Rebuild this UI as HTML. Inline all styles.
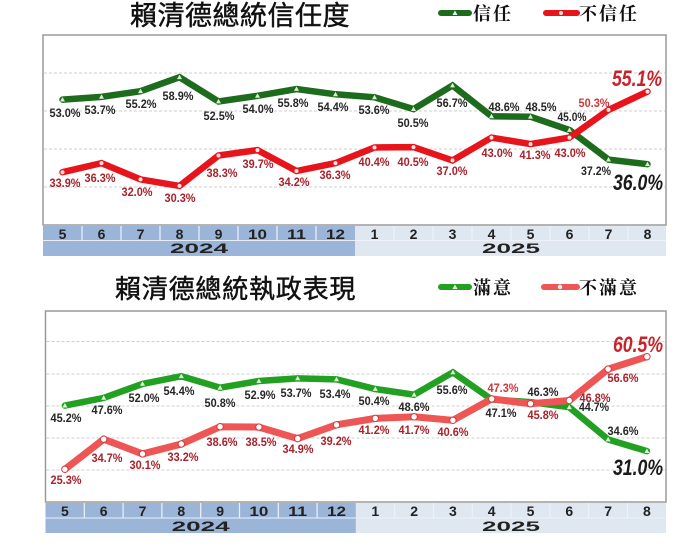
<!DOCTYPE html>
<html><head><meta charset="utf-8">
<style>
html,body{margin:0;padding:0;background:#fff;}
svg{display:block;}
.lbl{font-family:"Liberation Sans",sans-serif;font-weight:bold;font-size:12px;text-anchor:middle;}
.g{fill:#262626;}
.r{fill:#a8222c;}
.big{font-family:"Liberation Sans",sans-serif;font-weight:bold;font-style:italic;font-size:22px;text-anchor:middle;}
.mo{font-family:"Liberation Sans",sans-serif;font-weight:bold;font-size:14px;text-anchor:middle;fill:#222;}
.title{font-family:"Liberation Sans","Noto Sans CJK TC",sans-serif;font-size:27px;fill:#111;letter-spacing:0.5px;stroke:#111;stroke-width:0.45px;}
.leg{font-family:"Liberation Sans","Noto Serif CJK SC","Noto Sans CJK TC",serif;font-size:18px;fill:#111;letter-spacing:2px;font-weight:bold;}
</style></head>
<body>
<svg width="692" height="551" viewBox="0 0 692 551" xmlns="http://www.w3.org/2000/svg">
<rect width="692" height="551" fill="#fff"/>

<!-- ================= TOP CHART ================= -->
<text class="title" x="130" y="25">賴清德總統信任度</text>
<line x1="441" y1="13" x2="469" y2="13" stroke="#1d6b1d" stroke-width="6" stroke-linecap="round"/>
<polygon points="455,10.5 457.5,15 452.5,15" fill="#dfe" />
<text class="leg" x="473" y="20">信任</text>
<line x1="546" y1="13" x2="577" y2="13" stroke="#e8141c" stroke-width="6" stroke-linecap="round"/>
<circle cx="561" cy="13" r="2" fill="#fdd"/>
<text class="leg" x="579" y="20">不信任</text>

<rect x="43" y="35" width="623" height="190" fill="#fff" stroke="#9a9a9a" stroke-width="1.5"/>
<g stroke="#cfcfcf" stroke-width="1" stroke-dasharray="3,2">
<line x1="44" y1="73" x2="665" y2="73"/>
<line x1="44" y1="111" x2="665" y2="111"/>
<line x1="44" y1="149" x2="665" y2="149"/>
<line x1="44" y1="187" x2="665" y2="187"/>
</g>

<polyline fill="none" stroke="#1d6b1d" stroke-width="6.5" stroke-linejoin="miter" stroke-linecap="round"
points="62.5,99.6 101.5,96.9 140.5,91.2 179.5,77.2 218.5,101.5 257.5,95.8 296.5,89.0 335.5,94.3 374.5,97.3 413.5,109.1 452.5,85.5 491.5,116.3 530.5,116.7 569.5,130.0 608.5,159.6 647.5,164.2"/>
<polyline fill="none" stroke="#e8141c" stroke-width="6.5" stroke-linejoin="miter" stroke-linecap="round"
points="62.5,172.2 101.5,163.1 140.5,179.4 179.5,185.9 218.5,155.5 257.5,150.1 296.5,171.0 335.5,163.1 374.5,147.5 413.5,147.1 452.5,160.4 491.5,137.6 530.5,144.1 569.5,137.6 608.5,109.9 647.5,91.6"/>
<g fill="#d8f0d0">
<polygon points="62.5,97 65,101.5 60,101.5"/><polygon points="101.5,94.3 104,98.8 99,98.8"/>
<polygon points="140.5,88.6 143,93.1 138,93.1"/><polygon points="179.5,74.6 182,79.1 177,79.1"/>
<polygon points="218.5,98.9 221,103.4 216,103.4"/><polygon points="257.5,93.2 260,97.7 255,97.7"/>
<polygon points="296.5,86.4 299,90.9 294,90.9"/><polygon points="335.5,91.7 338,96.2 333,96.2"/>
<polygon points="374.5,94.7 377,99.2 372,99.2"/><polygon points="413.5,106.5 416,111 411,111"/>
<polygon points="452.5,82.9 455,87.4 450,87.4"/><polygon points="491.5,113.7 494,118.2 489,118.2"/>
<polygon points="530.5,114.1 533,118.6 528,118.6"/><polygon points="569.5,127.4 572,131.9 567,131.9"/>
<polygon points="608.5,157 611,161.5 606,161.5"/><polygon points="647.5,161.6 650,166.1 645,166.1"/>
</g>
<g fill="#fde0e0">
<circle cx="62.5" cy="172.2" r="2"/><circle cx="101.5" cy="163.1" r="2"/><circle cx="140.5" cy="179.4" r="2"/><circle cx="179.5" cy="185.9" r="2"/>
<circle cx="218.5" cy="155.5" r="2"/><circle cx="257.5" cy="150.1" r="2"/><circle cx="296.5" cy="171.0" r="2"/><circle cx="335.5" cy="163.1" r="2"/>
<circle cx="374.5" cy="147.5" r="2"/><circle cx="413.5" cy="147.1" r="2"/><circle cx="452.5" cy="160.4" r="2"/><circle cx="491.5" cy="137.6" r="2"/>
<circle cx="530.5" cy="144.1" r="2"/><circle cx="569.5" cy="137.6" r="2"/><circle cx="608.5" cy="109.9" r="2"/><circle cx="647.5" cy="91.6" r="2"/>
</g>

<g class="lbl g">
<text x="65" y="117" textLength="31" lengthAdjust="spacingAndGlyphs">53.0%</text>
<text x="100" y="114" textLength="31" lengthAdjust="spacingAndGlyphs">53.7%</text>
<text x="141" y="108" textLength="31" lengthAdjust="spacingAndGlyphs">55.2%</text>
<text x="178" y="100" textLength="31" lengthAdjust="spacingAndGlyphs">58.9%</text>
<text x="219" y="120" textLength="31" lengthAdjust="spacingAndGlyphs">52.5%</text>
<text x="258" y="113" textLength="31" lengthAdjust="spacingAndGlyphs">54.0%</text>
<text x="293" y="107" textLength="31" lengthAdjust="spacingAndGlyphs">55.8%</text>
<text x="333" y="111" textLength="31" lengthAdjust="spacingAndGlyphs">54.4%</text>
<text x="374" y="114" textLength="31" lengthAdjust="spacingAndGlyphs">53.6%</text>
<text x="413" y="127" textLength="31" lengthAdjust="spacingAndGlyphs">50.5%</text>
<text x="452" y="107" textLength="31" lengthAdjust="spacingAndGlyphs">56.7%</text>
<text x="504" y="111" textLength="31" lengthAdjust="spacingAndGlyphs">48.6%</text>
<text x="541" y="111" textLength="31" lengthAdjust="spacingAndGlyphs">48.5%</text>
<text x="572" y="121" textLength="29" lengthAdjust="spacingAndGlyphs">45.0%</text>
<text x="596" y="175" textLength="30" lengthAdjust="spacingAndGlyphs">37.2%</text>
</g>
<text class="big" x="638" y="190" fill="#1a1a1a" textLength="50" lengthAdjust="spacingAndGlyphs">36.0%</text>
<g class="lbl r">
<text x="65" y="187" textLength="31" lengthAdjust="spacingAndGlyphs">33.9%</text>
<text x="100" y="182" textLength="31" lengthAdjust="spacingAndGlyphs">36.3%</text>
<text x="137" y="196" textLength="31" lengthAdjust="spacingAndGlyphs">32.0%</text>
<text x="180" y="202" textLength="31" lengthAdjust="spacingAndGlyphs">30.3%</text>
<text x="222" y="177" textLength="31" lengthAdjust="spacingAndGlyphs">38.3%</text>
<text x="258" y="168" textLength="31" lengthAdjust="spacingAndGlyphs">39.7%</text>
<text x="294" y="186" textLength="31" lengthAdjust="spacingAndGlyphs">34.2%</text>
<text x="335" y="179" textLength="31" lengthAdjust="spacingAndGlyphs">36.3%</text>
<text x="374" y="166" textLength="31" lengthAdjust="spacingAndGlyphs">40.4%</text>
<text x="413" y="166" textLength="31" lengthAdjust="spacingAndGlyphs">40.5%</text>
<text x="452" y="175" textLength="31" lengthAdjust="spacingAndGlyphs">37.0%</text>
<text x="497" y="157" textLength="31" lengthAdjust="spacingAndGlyphs">43.0%</text>
<text x="535" y="159" textLength="31" lengthAdjust="spacingAndGlyphs">41.3%</text>
<text x="570" y="157" textLength="31" lengthAdjust="spacingAndGlyphs">43.0%</text>
<text x="594" y="107" textLength="31" lengthAdjust="spacingAndGlyphs" fill="#d0353a">50.3%</text>
</g>
<text class="big" x="637" y="86" fill="#c8232b" textLength="50" lengthAdjust="spacingAndGlyphs">55.1%</text>

<rect x="43" y="226" width="312" height="30" fill="#9bb5d8"/>
<rect x="355" y="226" width="311" height="30" fill="#dfe7f1"/>
<line x1="43" y1="240.5" x2="355" y2="240.5" stroke="#e8eef7" stroke-width="1"/>
<line x1="355" y1="240.5" x2="666" y2="240.5" stroke="#eef2f8" stroke-width="1"/>
<g stroke="#eef2f8" stroke-width="1.2">
<line x1="82" y1="226" x2="82" y2="240"/><line x1="121" y1="226" x2="121" y2="240"/><line x1="160" y1="226" x2="160" y2="240"/>
<line x1="199" y1="226" x2="199" y2="240"/><line x1="238" y1="226" x2="238" y2="240"/><line x1="277" y1="226" x2="277" y2="240"/>
<line x1="316" y1="226" x2="316" y2="240"/>
<line x1="394" y1="226" x2="394" y2="240"/><line x1="433" y1="226" x2="433" y2="240"/><line x1="472" y1="226" x2="472" y2="240"/>
<line x1="511" y1="226" x2="511" y2="240"/><line x1="550" y1="226" x2="550" y2="240"/><line x1="589" y1="226" x2="589" y2="240"/>
<line x1="628" y1="226" x2="628" y2="240"/>
</g>
<g class="mo">
<text x="62.5" y="239">5</text><text x="101.5" y="239">6</text><text x="140.5" y="239">7</text><text x="179.5" y="239">8</text>
<text x="218.5" y="239">9</text>
<text x="257.5" y="239" textLength="19" lengthAdjust="spacingAndGlyphs">10</text>
<text x="296.5" y="239" textLength="19" lengthAdjust="spacingAndGlyphs">11</text>
<text x="335.5" y="239" textLength="19" lengthAdjust="spacingAndGlyphs">12</text>
<text x="374.5" y="239">1</text><text x="413.5" y="239">2</text><text x="452.5" y="239">3</text><text x="491.5" y="239">4</text>
<text x="530.5" y="239">5</text><text x="569.5" y="239">6</text><text x="608.5" y="239">7</text><text x="647.5" y="239">8</text>
<text x="199" y="253" textLength="58" lengthAdjust="spacingAndGlyphs">2024</text>
<text x="511" y="253" textLength="58" lengthAdjust="spacingAndGlyphs">2025</text>
</g>

<!-- ================= BOTTOM CHART ================= -->
<text class="title" x="115" y="298" style="font-size:26px;letter-spacing:0.8px">賴清德總統執政表現</text>
<line x1="441" y1="287" x2="469" y2="287" stroke="#22a022" stroke-width="6" stroke-linecap="round"/>
<polygon points="455,284.5 457.5,289 452.5,289" fill="#e8fbe4"/>
<text class="leg" x="473" y="294">滿意</text>
<line x1="544" y1="287" x2="577" y2="287" stroke="#ee5555" stroke-width="6" stroke-linecap="round"/>
<circle cx="560" cy="287" r="2.2" fill="#fff"/>
<text class="leg" x="579" y="294">不滿意</text>

<rect x="45.5" y="311" width="620.5" height="191" fill="#fff" stroke="#9a9a9a" stroke-width="1.5"/>
<g stroke="#cfcfcf" stroke-width="1" stroke-dasharray="3,2">
<line x1="46.5" y1="341.5" x2="665" y2="341.5"/>
<line x1="46.5" y1="374" x2="665" y2="374"/>
<line x1="46.5" y1="406" x2="665" y2="406"/>
<line x1="46.5" y1="438" x2="665" y2="438"/>
<line x1="46.5" y1="470" x2="665" y2="470"/>
</g>

<polyline fill="none" stroke="#22a022" stroke-width="6.5" stroke-linejoin="miter" stroke-linecap="round"
points="64.9,405.6 103.7,397.9 142.5,383.9 181.3,376.2 220.1,387.7 258.9,381.0 297.7,378.4 336.5,379.4 375.3,389.0 414.1,394.7 452.9,372.3 491.7,399.5 530.5,402.1 569.3,407.2 608.1,439.5 646.9,451.1"/>
<polyline fill="none" stroke="#ee5555" stroke-width="7" stroke-linejoin="miter" stroke-linecap="round"
points="64.9,469.3 103.7,439.2 142.5,453.9 181.3,444.0 220.1,426.7 258.9,427.1 297.7,438.6 336.5,424.8 375.3,418.4 414.1,416.8 452.9,420.3 491.7,398.9 530.5,403.7 569.3,400.5 608.1,369.1 646.9,356.7"/>
<g fill="#e0f7dc">
<polygon points="64.9,403 67.4,407.5 62.4,407.5"/><polygon points="103.7,395.3 106.2,399.8 101.2,399.8"/>
<polygon points="142.5,381.3 145,385.8 140,385.8"/><polygon points="181.3,373.6 183.8,378.1 178.8,378.1"/>
<polygon points="220.1,385.1 222.6,389.6 217.6,389.6"/><polygon points="258.9,378.4 261.4,382.9 256.4,382.9"/>
<polygon points="297.7,375.8 300.2,380.3 295.2,380.3"/><polygon points="336.5,376.8 339,381.3 334,381.3"/>
<polygon points="375.3,386.4 377.8,390.9 372.8,390.9"/><polygon points="414.1,392.1 416.6,396.6 411.6,396.6"/>
<polygon points="452.9,369.7 455.4,374.2 450.4,374.2"/><polygon points="491.7,396.9 494.2,401.4 489.2,401.4"/>
<polygon points="530.5,399.5 533,404 528,404"/><polygon points="569.3,404.6 571.8,409.1 566.8,409.1"/>
<polygon points="608.1,436.9 610.6,441.4 605.6,441.4"/><polygon points="646.9,448.5 649.4,453 644.4,453"/>
</g>
<g fill="#fff" stroke="#d83a3a" stroke-width="1">
<circle cx="64.9" cy="469.3" r="3.2"/><circle cx="103.7" cy="439.2" r="3.2"/><circle cx="142.5" cy="453.9" r="3.2"/><circle cx="181.3" cy="444.0" r="3.2"/>
<circle cx="220.1" cy="426.7" r="3.2"/><circle cx="258.9" cy="427.1" r="3.2"/><circle cx="297.7" cy="438.6" r="3.2"/><circle cx="336.5" cy="424.8" r="3.2"/>
<circle cx="375.3" cy="418.4" r="3.2"/><circle cx="414.1" cy="416.8" r="3.2"/><circle cx="452.9" cy="420.3" r="3.2"/><circle cx="491.7" cy="398.9" r="3.2"/>
<circle cx="530.5" cy="403.7" r="3.2"/><circle cx="569.3" cy="400.5" r="3.2"/><circle cx="608.1" cy="369.1" r="3.2"/><circle cx="646.9" cy="356.7" r="3.2"/>
</g>

<g class="lbl g">
<text x="66" y="422" textLength="31" lengthAdjust="spacingAndGlyphs">45.2%</text>
<text x="107" y="414" textLength="31" lengthAdjust="spacingAndGlyphs">47.6%</text>
<text x="144" y="402" textLength="31" lengthAdjust="spacingAndGlyphs">52.0%</text>
<text x="179" y="395" textLength="31" lengthAdjust="spacingAndGlyphs">54.4%</text>
<text x="220" y="407" textLength="31" lengthAdjust="spacingAndGlyphs">50.8%</text>
<text x="260" y="399" textLength="31" lengthAdjust="spacingAndGlyphs">52.9%</text>
<text x="296" y="397" textLength="31" lengthAdjust="spacingAndGlyphs">53.7%</text>
<text x="335" y="398" textLength="31" lengthAdjust="spacingAndGlyphs">53.4%</text>
<text x="374" y="405" textLength="31" lengthAdjust="spacingAndGlyphs">50.4%</text>
<text x="414" y="411" textLength="31" lengthAdjust="spacingAndGlyphs">48.6%</text>
<text x="452" y="394" textLength="31" lengthAdjust="spacingAndGlyphs">55.6%</text>
<text x="501" y="417" textLength="31" lengthAdjust="spacingAndGlyphs">47.1%</text>
<text x="543" y="396" textLength="31" lengthAdjust="spacingAndGlyphs">46.3%</text>
<text x="594" y="411" textLength="30" lengthAdjust="spacingAndGlyphs">44.7%</text>
<text x="623" y="435" textLength="31" lengthAdjust="spacingAndGlyphs">34.6%</text>
</g>
<text class="big" x="638" y="475" fill="#1a1a1a" textLength="50" lengthAdjust="spacingAndGlyphs">31.0%</text>
<g class="lbl r">
<text x="66" y="484" textLength="31" lengthAdjust="spacingAndGlyphs">25.3%</text>
<text x="107" y="462" textLength="31" lengthAdjust="spacingAndGlyphs">34.7%</text>
<text x="145" y="469" textLength="31" lengthAdjust="spacingAndGlyphs">30.1%</text>
<text x="183" y="461" textLength="31" lengthAdjust="spacingAndGlyphs">33.2%</text>
<text x="222" y="446" textLength="31" lengthAdjust="spacingAndGlyphs">38.6%</text>
<text x="261" y="446" textLength="31" lengthAdjust="spacingAndGlyphs">38.5%</text>
<text x="298" y="453" textLength="31" lengthAdjust="spacingAndGlyphs">34.9%</text>
<text x="336" y="445" textLength="31" lengthAdjust="spacingAndGlyphs">39.2%</text>
<text x="374" y="434" textLength="31" lengthAdjust="spacingAndGlyphs">41.2%</text>
<text x="414" y="434" textLength="31" lengthAdjust="spacingAndGlyphs">41.7%</text>
<text x="453" y="436" textLength="31" lengthAdjust="spacingAndGlyphs">40.6%</text>
<text x="503" y="392" textLength="31" lengthAdjust="spacingAndGlyphs" fill="#d0353a">47.3%</text>
<text x="543" y="419" textLength="31" lengthAdjust="spacingAndGlyphs">45.8%</text>
<text x="595" y="402" textLength="31" lengthAdjust="spacingAndGlyphs">46.8%</text>
<text x="623" y="382" textLength="31" lengthAdjust="spacingAndGlyphs">56.6%</text>
</g>
<text class="big" x="638" y="352" fill="#c8232b" textLength="50" lengthAdjust="spacingAndGlyphs">60.5%</text>

<rect x="45.5" y="503" width="310.4" height="30" fill="#9bb5d8"/>
<rect x="355.9" y="503" width="310.1" height="30" fill="#dfe7f1"/>
<line x1="45.5" y1="518" x2="355.9" y2="518" stroke="#e8eef7" stroke-width="1"/>
<line x1="355.9" y1="518" x2="666" y2="518" stroke="#eef2f8" stroke-width="1"/>
<g stroke="#eef2f8" stroke-width="1.2">
<line x1="84.3" y1="503" x2="84.3" y2="518"/><line x1="123.1" y1="503" x2="123.1" y2="518"/><line x1="161.9" y1="503" x2="161.9" y2="518"/>
<line x1="200.7" y1="503" x2="200.7" y2="518"/><line x1="239.5" y1="503" x2="239.5" y2="518"/><line x1="278.3" y1="503" x2="278.3" y2="518"/>
<line x1="317.1" y1="503" x2="317.1" y2="518"/>
<line x1="394.7" y1="503" x2="394.7" y2="518"/><line x1="433.5" y1="503" x2="433.5" y2="518"/><line x1="472.3" y1="503" x2="472.3" y2="518"/>
<line x1="511.1" y1="503" x2="511.1" y2="518"/><line x1="549.9" y1="503" x2="549.9" y2="518"/><line x1="588.7" y1="503" x2="588.7" y2="518"/>
<line x1="627.5" y1="503" x2="627.5" y2="518"/>
</g>
<g class="mo">
<text x="64.9" y="516">5</text><text x="103.7" y="516">6</text><text x="142.5" y="516">7</text><text x="181.3" y="516">8</text>
<text x="220.1" y="516">9</text>
<text x="258.9" y="516" textLength="19" lengthAdjust="spacingAndGlyphs">10</text>
<text x="297.7" y="516" textLength="19" lengthAdjust="spacingAndGlyphs">11</text>
<text x="336.5" y="516" textLength="19" lengthAdjust="spacingAndGlyphs">12</text>
<text x="375.3" y="516">1</text><text x="414.1" y="516">2</text><text x="452.9" y="516">3</text><text x="491.7" y="516">4</text>
<text x="530.5" y="516">5</text><text x="569.3" y="516">6</text><text x="608.1" y="516">7</text><text x="646.9" y="516">8</text>
<text x="200.7" y="531" textLength="58" lengthAdjust="spacingAndGlyphs">2024</text>
<text x="511" y="531" textLength="58" lengthAdjust="spacingAndGlyphs">2025</text>
</g>
</svg>
</body></html>
